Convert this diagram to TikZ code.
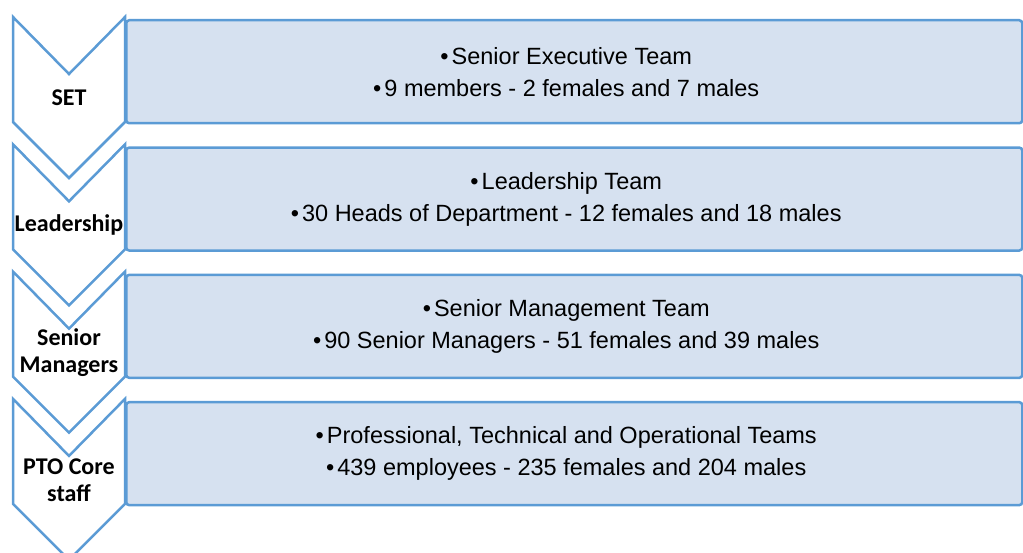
\documentclass[tikz,border=0pt]{standalone}
\usepackage{fontspec}
\setmainfont{Liberation Sans}
\newfontfamily\calib{Carlito}
\usetikzlibrary{positioning}
\definecolor{tierline}{RGB}{91,155,213}
\definecolor{tierfill}{RGB}{214,225,240}
\newcommand{\bul}{•\hspace{3pt}}

\begin{document}
\begin{tikzpicture}[x=1pt,y=-1pt,
		chev/.style={draw=tierline,fill=white,line width=2.5pt,line join=miter},
		tier/.style={draw=tierline,fill=tierfill,line width=2.5pt,rounded corners=3pt,minimum width=896pt,minimum height=103pt,anchor=north west,inner sep=0pt},
		tag/.style={font=\calib\bfseries\fontsize{24}{27}\selectfont,align=center,inner sep=0pt},
		info/.style={font=\fontsize{23.5}{32}\selectfont,align=center,inner sep=0pt}]
		\useasboundingbox (0,0) rectangle (1023,553);
		\node[tier] (b1) at (125,19) {};
		\node[tier] (b2) at (125,146.3) {};
		\node[tier] (b3) at (125,273.6) {};
		\node[tier] (b4) at (125,400.9) {};
		\draw[chev] (13,17) -- ++(56,57) -- ++(56,-57) -- ++(0,105) -- ++(-56,56) -- ++(-56,-56) -- cycle;
		\draw[chev] (13,144.3) -- ++(56,57) -- ++(56,-57) -- ++(0,105) -- ++(-56,56) -- ++(-56,-56) -- cycle;
		\draw[chev] (13,271.6) -- ++(56,57) -- ++(56,-57) -- ++(0,105) -- ++(-56,56) -- ++(-56,-56) -- cycle;
		\draw[chev] (13,398.9) -- ++(56,57) -- ++(56,-57) -- ++(0,105) -- ++(-56,56) -- ++(-56,-56) -- cycle;
		\node[tag] (set) at (69,98) {SET};
		\node[tag] (lead) at (69,225.3) {Leadership};
		\node[tag] (mgr) at (69,352.6) {Senior\\Managers};
		\node[tag] (pto) at (69,479.9) {PTO Core\\staff};
		\node[info] (t1) at ([xshift=-8pt]b1.center) {\bul Senior Executive Team\\\bul 9 members - 2 females and 7 males};
		\node[info] (t2) at ([xshift=-8pt]b2.center) {\bul Leadership Team\\\bul 30 Heads of Department - 12 females and 18 males};
		\node[info] (t3) at ([xshift=-8pt]b3.center) {\bul Senior Management Team\\\bul 90 Senior Managers - 51 females and 39 males};
		\node[info] (t4) at ([xshift=-8pt]b4.center) {\bul Professional, Technical and Operational Teams\\\bul 439 employees - 235 females and 204 males};
\end{tikzpicture}
\end{document}
